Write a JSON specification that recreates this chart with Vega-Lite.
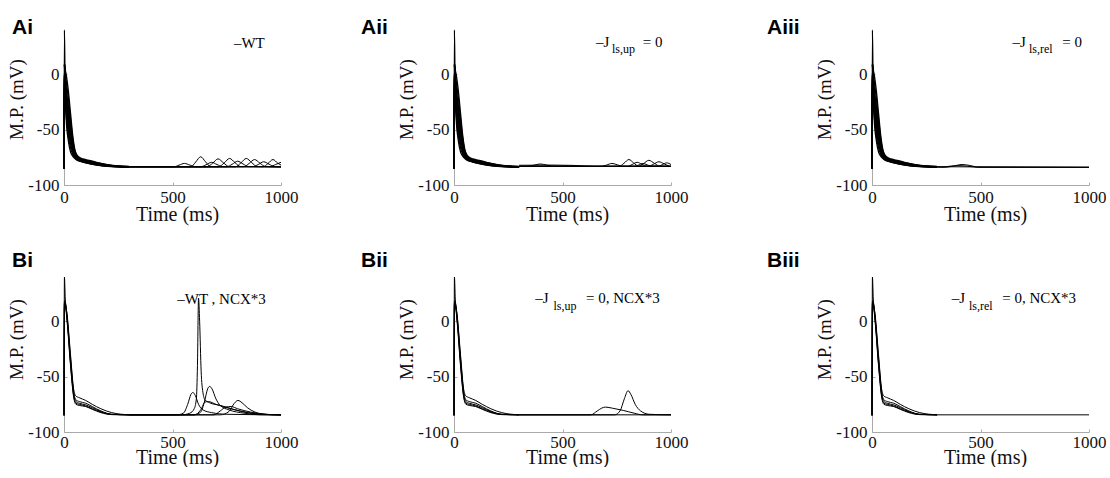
{
"$schema": "https://vega.github.io/schema/vega-lite/v6.json",
"padding": {"left": 7, "top": 16, "right": 0, "bottom": 0},
"background": "white",
"datasets": {
"abase": [
{"id":1,"t":0,"mv":-85},{"id":1,"t":2,"mv":40},{"id":1,"t":5,"mv":-12},{"id":1,"t":10,"mv":-40},{"id":1,"t":20,"mv":-60},{"id":1,"t":30,"mv":-70},{"id":1,"t":40,"mv":-74},{"id":1,"t":50,"mv":-76},{"id":1,"t":60,"mv":-77.5},{"id":1,"t":80,"mv":-79},{"id":1,"t":100,"mv":-80},{"id":1,"t":150,"mv":-82},{"id":1,"t":200,"mv":-83.2},{"id":1,"t":250,"mv":-83.6},{"id":1,"t":300,"mv":-83.8},
{"id":2,"t":0,"mv":-85},{"id":2,"t":2,"mv":8.2},{"id":2,"t":5,"mv":-13},{"id":2,"t":10,"mv":-36},{"id":2,"t":20,"mv":-55.5},{"id":2,"t":30,"mv":-66.5},{"id":2,"t":40,"mv":-72.1},{"id":2,"t":50,"mv":-75.2},{"id":2,"t":60,"mv":-77.1},{"id":2,"t":80,"mv":-78.7},{"id":2,"t":100,"mv":-79.7},{"id":2,"t":150,"mv":-81.8},{"id":2,"t":200,"mv":-83},{"id":2,"t":250,"mv":-83.5},{"id":2,"t":300,"mv":-83.8},
{"id":3,"t":0,"mv":-85},{"id":3,"t":2,"mv":8.4},{"id":3,"t":5,"mv":-11},{"id":3,"t":10,"mv":-32},{"id":3,"t":20,"mv":-51},{"id":3,"t":30,"mv":-63},{"id":3,"t":40,"mv":-70.2},{"id":3,"t":50,"mv":-74.4},{"id":3,"t":60,"mv":-76.6},{"id":3,"t":80,"mv":-78.4},{"id":3,"t":100,"mv":-79.4},{"id":3,"t":150,"mv":-81.5},{"id":3,"t":200,"mv":-82.9},{"id":3,"t":250,"mv":-83.4},{"id":3,"t":300,"mv":-83.7},
{"id":4,"t":0,"mv":-85},{"id":4,"t":2,"mv":8.6},{"id":4,"t":5,"mv":-9},{"id":4,"t":10,"mv":-28},{"id":4,"t":20,"mv":-46.5},{"id":4,"t":30,"mv":-59.5},{"id":4,"t":40,"mv":-68.3},{"id":4,"t":50,"mv":-73.6},{"id":4,"t":60,"mv":-76.2},{"id":4,"t":80,"mv":-78.1},{"id":4,"t":100,"mv":-79.1},{"id":4,"t":150,"mv":-81.3},{"id":4,"t":200,"mv":-82.7},{"id":4,"t":250,"mv":-83.4},{"id":4,"t":300,"mv":-83.7},
{"id":5,"t":0,"mv":-85},{"id":5,"t":2,"mv":8.8},{"id":5,"t":5,"mv":-7},{"id":5,"t":10,"mv":-24},{"id":5,"t":20,"mv":-42},{"id":5,"t":30,"mv":-56},{"id":5,"t":40,"mv":-66.4},{"id":5,"t":50,"mv":-72.8},{"id":5,"t":60,"mv":-75.7},{"id":5,"t":80,"mv":-77.8},{"id":5,"t":100,"mv":-78.8},{"id":5,"t":150,"mv":-81},{"id":5,"t":200,"mv":-82.5},{"id":5,"t":250,"mv":-83.3},{"id":5,"t":300,"mv":-83.6},
{"id":6,"t":0,"mv":-85},{"id":6,"t":2,"mv":9},{"id":6,"t":5,"mv":-5},{"id":6,"t":10,"mv":-20},{"id":6,"t":20,"mv":-37.5},{"id":6,"t":30,"mv":-52.5},{"id":6,"t":40,"mv":-64.5},{"id":6,"t":50,"mv":-72},{"id":6,"t":60,"mv":-75.3},{"id":6,"t":80,"mv":-77.5},{"id":6,"t":100,"mv":-78.5},{"id":6,"t":150,"mv":-80.8},{"id":6,"t":200,"mv":-82.4},{"id":6,"t":250,"mv":-83.2},{"id":6,"t":300,"mv":-83.6},
{"id":7,"t":0,"mv":-85},{"id":7,"t":2,"mv":9.2},{"id":7,"t":5,"mv":-3},{"id":7,"t":10,"mv":-16},{"id":7,"t":20,"mv":-33},{"id":7,"t":30,"mv":-49},{"id":7,"t":40,"mv":-62.6},{"id":7,"t":50,"mv":-71.2},{"id":7,"t":60,"mv":-74.8},{"id":7,"t":80,"mv":-77.2},{"id":7,"t":100,"mv":-78.2},{"id":7,"t":150,"mv":-80.5},{"id":7,"t":200,"mv":-82.2},{"id":7,"t":250,"mv":-83.1},{"id":7,"t":300,"mv":-83.5},
{"id":8,"t":0,"mv":-85},{"id":8,"t":2,"mv":9.4},{"id":8,"t":5,"mv":-1},{"id":8,"t":10,"mv":-12},{"id":8,"t":20,"mv":-28.5},{"id":8,"t":30,"mv":-45.5},{"id":8,"t":40,"mv":-60.7},{"id":8,"t":50,"mv":-70.4},{"id":8,"t":60,"mv":-74.4},{"id":8,"t":80,"mv":-76.9},{"id":8,"t":100,"mv":-77.9},{"id":8,"t":150,"mv":-80.3},{"id":8,"t":200,"mv":-82},{"id":8,"t":250,"mv":-83},{"id":8,"t":300,"mv":-83.5},
{"id":9,"t":0,"mv":-85},{"id":9,"t":2,"mv":9.7},{"id":9,"t":5,"mv":2},{"id":9,"t":10,"mv":-6},{"id":9,"t":20,"mv":-21.8},{"id":9,"t":30,"mv":-40.3},{"id":9,"t":40,"mv":-57.9},{"id":9,"t":50,"mv":-69.2},{"id":9,"t":60,"mv":-73.7},{"id":9,"t":80,"mv":-76.5},{"id":9,"t":100,"mv":-77.5},{"id":9,"t":150,"mv":-79.9},{"id":9,"t":200,"mv":-81.8},{"id":9,"t":250,"mv":-82.9},{"id":9,"t":300,"mv":-83.4},
{"id":10,"t":0,"mv":-85},{"id":10,"t":2,"mv":10},{"id":10,"t":5,"mv":5},{"id":10,"t":10,"mv":0},{"id":10,"t":20,"mv":-15},{"id":10,"t":30,"mv":-35},{"id":10,"t":40,"mv":-55},{"id":10,"t":50,"mv":-68},{"id":10,"t":60,"mv":-73},{"id":10,"t":80,"mv":-76},{"id":10,"t":100,"mv":-77},{"id":10,"t":150,"mv":-79.5},{"id":10,"t":200,"mv":-81.5},{"id":10,"t":250,"mv":-82.8},{"id":10,"t":300,"mv":-83.3}
],
"bbase": [
{"id":1,"t":0,"mv":-85},{"id":1,"t":2,"mv":40},{"id":1,"t":6,"mv":20},{"id":1,"t":15,"mv":5},{"id":1,"t":30,"mv":-30},{"id":1,"t":45,"mv":-62},{"id":1,"t":55,"mv":-67.5},{"id":1,"t":70,"mv":-69},{"id":1,"t":100,"mv":-71.5},{"id":1,"t":130,"mv":-75},{"id":1,"t":170,"mv":-79},{"id":1,"t":220,"mv":-82.5},{"id":1,"t":300,"mv":-84.5},
{"id":2,"t":0,"mv":-85},{"id":2,"t":2,"mv":18},{"id":2,"t":6,"mv":17},{"id":2,"t":15,"mv":3},{"id":2,"t":30,"mv":-33},{"id":2,"t":45,"mv":-64},{"id":2,"t":55,"mv":-71},{"id":2,"t":70,"mv":-72.5},{"id":2,"t":100,"mv":-74},{"id":2,"t":130,"mv":-77},{"id":2,"t":170,"mv":-81},{"id":2,"t":220,"mv":-84},{"id":2,"t":300,"mv":-84.5},
{"id":3,"t":0,"mv":-85},{"id":3,"t":2,"mv":17},{"id":3,"t":6,"mv":16},{"id":3,"t":15,"mv":1},{"id":3,"t":30,"mv":-36},{"id":3,"t":45,"mv":-66},{"id":3,"t":55,"mv":-72.5},{"id":3,"t":70,"mv":-74},{"id":3,"t":100,"mv":-75.5},{"id":3,"t":130,"mv":-78},{"id":3,"t":170,"mv":-81.5},{"id":3,"t":220,"mv":-84},{"id":3,"t":300,"mv":-84.5},
{"id":4,"t":0,"mv":-85},{"id":4,"t":2,"mv":16},{"id":4,"t":6,"mv":15},{"id":4,"t":15,"mv":0},{"id":4,"t":30,"mv":-38},{"id":4,"t":45,"mv":-68},{"id":4,"t":55,"mv":-74},{"id":4,"t":70,"mv":-75},{"id":4,"t":100,"mv":-76.5},{"id":4,"t":130,"mv":-79},{"id":4,"t":170,"mv":-82},{"id":4,"t":220,"mv":-84.2},{"id":4,"t":300,"mv":-84.5},
{"id":5,"t":0,"mv":-85},{"id":5,"t":2,"mv":15},{"id":5,"t":6,"mv":14},{"id":5,"t":15,"mv":-2},{"id":5,"t":30,"mv":-40},{"id":5,"t":45,"mv":-69},{"id":5,"t":55,"mv":-75},{"id":5,"t":70,"mv":-76},{"id":5,"t":100,"mv":-77},{"id":5,"t":130,"mv":-79.5},{"id":5,"t":170,"mv":-82.5},{"id":5,"t":220,"mv":-84.3},{"id":5,"t":300,"mv":-84.5}
],
"ai": [
{"id":1,"t":300,"mv":-83.5},{"id":1,"t":585,"mv":-83.5},{"id":1,"t":607,"mv":-79.2},{"id":1,"t":630,"mv":-74.5},{"id":1,"t":652,"mv":-79},{"id":1,"t":675,"mv":-83.3},{"id":1,"t":1000,"mv":-83.5},
{"id":2,"t":300,"mv":-83.5},{"id":2,"t":660,"mv":-83.5},{"id":2,"t":685,"mv":-80.3},{"id":2,"t":710,"mv":-76.4},{"id":2,"t":735,"mv":-80},{"id":2,"t":760,"mv":-83.3},{"id":2,"t":1000,"mv":-83.5},
{"id":3,"t":300,"mv":-83.5},{"id":3,"t":713,"mv":-83.5},{"id":3,"t":738,"mv":-80.1},{"id":3,"t":763,"mv":-76},{"id":3,"t":788,"mv":-79.8},{"id":3,"t":813,"mv":-83.3},{"id":3,"t":1000,"mv":-83.5},
{"id":4,"t":300,"mv":-83.6},{"id":4,"t":790,"mv":-83.6},{"id":4,"t":815,"mv":-80.1},{"id":4,"t":840,"mv":-76},{"id":4,"t":865,"mv":-79.8},{"id":4,"t":890,"mv":-83.3},{"id":4,"t":1000,"mv":-83.5},
{"id":5,"t":300,"mv":-83.5},{"id":5,"t":918,"mv":-83.5},{"id":5,"t":940,"mv":-80.6},{"id":5,"t":963,"mv":-77},{"id":5,"t":985,"mv":-80.3},{"id":5,"t":1000,"mv":-82},
{"id":6,"t":300,"mv":-83.6},{"id":6,"t":505,"mv":-83.6},{"id":6,"t":530,"mv":-82.1},{"id":6,"t":555,"mv":-80.5},{"id":6,"t":580,"mv":-82},{"id":6,"t":605,"mv":-83.5},{"id":6,"t":828,"mv":-83.5},{"id":6,"t":853,"mv":-80.6},{"id":6,"t":878,"mv":-77},{"id":6,"t":903,"mv":-80.3},{"id":6,"t":928,"mv":-83.3},{"id":6,"t":1000,"mv":-83.5},
{"id":7,"t":300,"mv":-83.5},{"id":7,"t":750,"mv":-83.5},{"id":7,"t":775,"mv":-81.3},{"id":7,"t":800,"mv":-78.5},{"id":7,"t":825,"mv":-81},{"id":7,"t":850,"mv":-83.3},{"id":7,"t":1000,"mv":-83.5},
{"id":8,"t":300,"mv":-83.5},{"id":8,"t":630,"mv":-83.5},{"id":8,"t":655,"mv":-81.7},{"id":8,"t":680,"mv":-79.5},{"id":8,"t":705,"mv":-81.5},{"id":8,"t":730,"mv":-83.3},{"id":8,"t":1000,"mv":-83.5},
{"id":9,"t":300,"mv":-83.4},{"id":9,"t":870,"mv":-83.4},{"id":9,"t":895,"mv":-81.5},{"id":9,"t":920,"mv":-79},{"id":9,"t":945,"mv":-81.2},{"id":9,"t":970,"mv":-83.3},{"id":9,"t":1000,"mv":-83.4},
{"id":10,"t":300,"mv":-83.3},{"id":10,"t":950,"mv":-83.3},{"id":10,"t":975,"mv":-81.5},{"id":10,"t":1000,"mv":-79.5}
],
"aii": [
{"id":1,"t":300,"mv":-83.2},{"id":1,"t":761,"mv":-83.2},{"id":1,"t":783,"mv":-80.4},{"id":1,"t":806,"mv":-77},{"id":1,"t":828,"mv":-80.1},{"id":1,"t":851,"mv":-83},{"id":1,"t":1000,"mv":-83.2},
{"id":2,"t":300,"mv":-83.2},{"id":2,"t":848,"mv":-83.2},{"id":2,"t":873,"mv":-80.7},{"id":2,"t":898,"mv":-77.7},{"id":2,"t":923,"mv":-80.4},{"id":2,"t":948,"mv":-83},{"id":2,"t":1000,"mv":-83.2},
{"id":3,"t":300,"mv":-83.2},{"id":3,"t":678,"mv":-83.2},{"id":3,"t":703,"mv":-82},{"id":3,"t":728,"mv":-80.5},{"id":3,"t":753,"mv":-81.8},{"id":3,"t":778,"mv":-83},{"id":3,"t":1000,"mv":-83.2},
{"id":4,"t":300,"mv":-83.2},{"id":4,"t":799,"mv":-83.2},{"id":4,"t":821,"mv":-81.5},{"id":4,"t":844,"mv":-79.5},{"id":4,"t":866,"mv":-81.3},{"id":4,"t":889,"mv":-83},{"id":4,"t":1000,"mv":-83.2},
{"id":5,"t":300,"mv":-83.2},{"id":5,"t":894,"mv":-83.2},{"id":5,"t":919,"mv":-81.3},{"id":5,"t":944,"mv":-79},{"id":5,"t":969,"mv":-81},{"id":5,"t":994,"mv":-83},{"id":5,"t":1000,"mv":-83.2},
{"id":6,"t":300,"mv":-83.2},{"id":6,"t":337,"mv":-83.2},{"id":6,"t":367,"mv":-82.2},{"id":6,"t":397,"mv":-81},{"id":6,"t":427,"mv":-82},{"id":6,"t":457,"mv":-83},{"id":6,"t":1000,"mv":-83.2},
{"id":7,"t":300,"mv":-82.2},{"id":7,"t":450,"mv":-82},{"id":7,"t":550,"mv":-82.3},{"id":7,"t":650,"mv":-83.2},{"id":7,"t":1000,"mv":-83.2},
{"id":8,"t":300,"mv":-83.2},{"id":8,"t":830,"mv":-83.2},{"id":8,"t":850,"mv":-82},{"id":8,"t":870,"mv":-80.5},{"id":8,"t":890,"mv":-81.8},{"id":8,"t":910,"mv":-83},{"id":8,"t":1000,"mv":-83.2},
{"id":9,"t":300,"mv":-83.2},{"id":9,"t":940,"mv":-83.2},{"id":9,"t":960,"mv":-81.6},{"id":9,"t":980,"mv":-80},{"id":9,"t":1000,"mv":-81.5},
{"id":10,"t":300,"mv":-83.3},{"id":10,"t":1000,"mv":-83.3}
],
"aiii": [
{"id":1,"t":300,"mv":-83.8},{"id":1,"t":320,"mv":-83.8},{"id":1,"t":360,"mv":-83},{"id":1,"t":400,"mv":-82.5},{"id":1,"t":440,"mv":-83},{"id":1,"t":480,"mv":-83.8},{"id":1,"t":1000,"mv":-84},
{"id":6,"t":300,"mv":-83.6},{"id":6,"t":335,"mv":-84},{"id":6,"t":375,"mv":-82.9},{"id":6,"t":415,"mv":-81.5},{"id":6,"t":455,"mv":-82.5},{"id":6,"t":490,"mv":-84},{"id":6,"t":1000,"mv":-84},
{"id":2,"t":300,"mv":-83.5},{"id":2,"t":1000,"mv":-84}
],
"bi": [
{"id":1,"t":300,"mv":-84.5},{"id":1,"t":540,"mv":-84.5},{"id":1,"t":580,"mv":-83},{"id":1,"t":600,"mv":-79},{"id":1,"t":610,"mv":-70},{"id":1,"t":615,"mv":-40},{"id":1,"t":620,"mv":21},{"id":1,"t":625,"mv":0},{"id":1,"t":632,"mv":-45},{"id":1,"t":640,"mv":-64},{"id":1,"t":650,"mv":-71},{"id":1,"t":670,"mv":-73.5},{"id":1,"t":720,"mv":-76},{"id":1,"t":780,"mv":-79.5},{"id":1,"t":850,"mv":-82.5},{"id":1,"t":920,"mv":-84},{"id":1,"t":1000,"mv":-84.5},
{"id":2,"t":300,"mv":-84.5},{"id":2,"t":520,"mv":-84.5},{"id":2,"t":550,"mv":-83},{"id":2,"t":570,"mv":-75},{"id":2,"t":585,"mv":-66},{"id":2,"t":594,"mv":-64.3},{"id":2,"t":605,"mv":-67},{"id":2,"t":620,"mv":-75},{"id":2,"t":640,"mv":-80},{"id":2,"t":680,"mv":-82.5},{"id":2,"t":750,"mv":-84},{"id":2,"t":1000,"mv":-84.5},
{"id":3,"t":300,"mv":-84.5},{"id":3,"t":600,"mv":-84.5},{"id":3,"t":630,"mv":-82},{"id":3,"t":648,"mv":-72},{"id":3,"t":662,"mv":-61},{"id":3,"t":671,"mv":-58.8},{"id":3,"t":682,"mv":-61},{"id":3,"t":700,"mv":-70},{"id":3,"t":720,"mv":-76},{"id":3,"t":760,"mv":-80},{"id":3,"t":830,"mv":-83},{"id":3,"t":920,"mv":-84.5},{"id":3,"t":1000,"mv":-84.5},
{"id":4,"t":300,"mv":-84.5},{"id":4,"t":720,"mv":-84.5},{"id":4,"t":760,"mv":-81.5},{"id":4,"t":785,"mv":-74},{"id":4,"t":802,"mv":-71.5},{"id":4,"t":820,"mv":-73.5},{"id":4,"t":845,"mv":-78},{"id":4,"t":880,"mv":-82},{"id":4,"t":930,"mv":-84},{"id":4,"t":1000,"mv":-84.5},
{"id":5,"t":300,"mv":-84.5},{"id":5,"t":600,"mv":-84.5},{"id":5,"t":630,"mv":-80},{"id":5,"t":650,"mv":-73},{"id":5,"t":665,"mv":-72.5},{"id":5,"t":700,"mv":-75},{"id":5,"t":760,"mv":-78.5},{"id":5,"t":830,"mv":-82},{"id":5,"t":900,"mv":-84},{"id":5,"t":1000,"mv":-84.5},
{"id":6,"t":300,"mv":-84.5},{"id":6,"t":690,"mv":-84.5},{"id":6,"t":720,"mv":-81},{"id":6,"t":745,"mv":-77.5},{"id":6,"t":770,"mv":-77},{"id":6,"t":800,"mv":-79},{"id":6,"t":860,"mv":-82},{"id":6,"t":950,"mv":-84.3},{"id":6,"t":1000,"mv":-84.5}
],
"bii": [
{"id":1,"t":300,"mv":-84.5},{"id":1,"t":630,"mv":-84.5},{"id":1,"t":660,"mv":-81},{"id":1,"t":680,"mv":-78.5},{"id":1,"t":698,"mv":-77.5},{"id":1,"t":730,"mv":-78.5},{"id":1,"t":780,"mv":-80.5},{"id":1,"t":830,"mv":-83},{"id":1,"t":870,"mv":-84.5},{"id":1,"t":1000,"mv":-84.5},
{"id":2,"t":300,"mv":-84.5},{"id":2,"t":740,"mv":-84.5},{"id":2,"t":765,"mv":-81},{"id":2,"t":785,"mv":-70},{"id":2,"t":802,"mv":-62.7},{"id":2,"t":815,"mv":-66},{"id":2,"t":835,"mv":-75},{"id":2,"t":860,"mv":-81},{"id":2,"t":900,"mv":-84},{"id":2,"t":1000,"mv":-84.5},
{"id":3,"t":300,"mv":-84.5},{"id":3,"t":1000,"mv":-84.5}
],
"biii": [
{"id":1,"t":300,"mv":-84.5},{"id":1,"t":1000,"mv":-84.5}
]
},
"vconcat": [
{"hconcat": [
 {"hconcat": [
  {"width": 217, "height": 155, "title": {"text": "Ai", "dx": -52, "dy": 14.5},
   "layer": [
    {"data": {"name": "abase"}, "mark": {"type": "line", "strokeWidth": 1.3}, "encoding": {"x": {"field": "t", "type": "quantitative", "scale": {"domain": [0, 1000]}, "axis": {"values": [0, 500, 1000], "title": "Time (ms)", "labelPadding": 7, "titlePadding": -1}}, "y": {"field": "mv", "type": "quantitative", "scale": {"domain": [-100, 40]}, "axis": {"values": [-100, -50, 0], "title": "M.P. (mV)", "titleY": 69}}, "detail": {"field": "id", "type": "nominal"}}},
    {"data": {"name": "ai"}, "mark": "line", "encoding": {"x": {"field": "t", "type": "quantitative"}, "y": {"field": "mv", "type": "quantitative"}, "detail": {"field": "id", "type": "nominal"}}},
    {"data": {"values": [{}]}, "mark": "text", "encoding": {"x": {"datum": 783, "type": "quantitative"}, "y": {"datum": 24, "type": "quantitative"}, "text": {"value": "–WT"}}}
   ]},
  {"width": 217, "height": 155, "title": {"text": "Aii", "dx": -93, "dy": 14.5},
   "layer": [
    {"data": {"name": "abase"}, "mark": {"type": "line", "strokeWidth": 1.3}, "encoding": {"x": {"field": "t", "type": "quantitative", "scale": {"domain": [0, 1000]}, "axis": {"values": [0, 500, 1000], "title": "Time (ms)", "labelPadding": 7, "titlePadding": -1}}, "y": {"field": "mv", "type": "quantitative", "scale": {"domain": [-100, 40]}, "axis": {"values": [-100, -50, 0], "title": "M.P. (mV)", "titleY": 69}}, "detail": {"field": "id", "type": "nominal"}}},
    {"data": {"name": "aii"}, "mark": "line", "encoding": {"x": {"field": "t", "type": "quantitative"}, "y": {"field": "mv", "type": "quantitative"}, "detail": {"field": "id", "type": "nominal"}}},
    {"data": {"values": [{}]}, "mark": "text", "encoding": {"x": {"datum": 654, "type": "quantitative"}, "y": {"datum": 24.4, "type": "quantitative"}, "text": {"value": "–J"}}},
    {"data": {"values": [{}]}, "mark": {"type": "text", "fontSize": 12}, "encoding": {"x": {"datum": 728, "type": "quantitative"}, "y": {"datum": 19, "type": "quantitative"}, "text": {"value": "ls,up"}}},
    {"data": {"values": [{}]}, "mark": "text", "encoding": {"x": {"datum": 870, "type": "quantitative"}, "y": {"datum": 24.4, "type": "quantitative"}, "text": {"value": "= 0"}}}
   ]}
 ], "spacing": 63},
 {"width": 217, "height": 155, "title": {"text": "Aiii", "dx": -105, "dy": 14.5},
  "layer": [
   {"data": {"name": "abase"}, "mark": {"type": "line", "strokeWidth": 1.3}, "encoding": {"x": {"field": "t", "type": "quantitative", "scale": {"domain": [0, 1000]}, "axis": {"values": [0, 500, 1000], "title": "Time (ms)", "labelPadding": 7, "titlePadding": -1}}, "y": {"field": "mv", "type": "quantitative", "scale": {"domain": [-100, 40]}, "axis": {"values": [-100, -50, 0], "title": "M.P. (mV)", "titleY": 69}}, "detail": {"field": "id", "type": "nominal"}}},
   {"data": {"name": "aiii"}, "mark": "line", "encoding": {"x": {"field": "t", "type": "quantitative"}, "y": {"field": "mv", "type": "quantitative"}, "detail": {"field": "id", "type": "nominal"}}},
   {"data": {"values": [{}]}, "mark": "text", "encoding": {"x": {"datum": 647, "type": "quantitative"}, "y": {"datum": 24.4, "type": "quantitative"}, "text": {"value": "–J"}}},
   {"data": {"values": [{}]}, "mark": {"type": "text", "fontSize": 12}, "encoding": {"x": {"datum": 723, "type": "quantitative"}, "y": {"datum": 19, "type": "quantitative"}, "text": {"value": "ls,rel"}}},
   {"data": {"values": [{}]}, "mark": "text", "encoding": {"x": {"datum": 877, "type": "quantitative"}, "y": {"datum": 24.4, "type": "quantitative"}, "text": {"value": "= 0"}}}
  ]}
], "spacing": 79},
{"hconcat": [
 {"hconcat": [
  {"width": 217, "height": 155, "title": {"text": "Bi", "dx": -52, "dy": 0},
   "layer": [
    {"data": {"name": "bbase"}, "mark": "line", "encoding": {"x": {"field": "t", "type": "quantitative", "scale": {"domain": [0, 1000]}, "axis": {"values": [0, 500, 1000], "title": "Time (ms)", "labelPadding": 5, "titlePadding": -3}}, "y": {"field": "mv", "type": "quantitative", "scale": {"domain": [-100, 40]}, "axis": {"values": [-100, -50, 0], "title": "M.P. (mV)", "titleY": 62}}, "detail": {"field": "id", "type": "nominal"}}},
    {"data": {"name": "bi"}, "mark": "line", "encoding": {"x": {"field": "t", "type": "quantitative"}, "y": {"field": "mv", "type": "quantitative"}, "detail": {"field": "id", "type": "nominal"}}},
    {"data": {"values": [{}]}, "mark": "text", "encoding": {"x": {"datum": 522, "type": "quantitative"}, "y": {"datum": 16, "type": "quantitative"}, "text": {"value": "–WT , NCX*3"}}}
   ]},
  {"width": 217, "height": 155, "title": {"text": "Bii", "dx": -93, "dy": 0},
   "layer": [
    {"data": {"name": "bbase"}, "mark": "line", "encoding": {"x": {"field": "t", "type": "quantitative", "scale": {"domain": [0, 1000]}, "axis": {"values": [0, 500, 1000], "title": "Time (ms)", "labelPadding": 5, "titlePadding": -3}}, "y": {"field": "mv", "type": "quantitative", "scale": {"domain": [-100, 40]}, "axis": {"values": [-100, -50, 0], "title": "M.P. (mV)", "titleY": 62}}, "detail": {"field": "id", "type": "nominal"}}},
    {"data": {"name": "bii"}, "mark": "line", "encoding": {"x": {"field": "t", "type": "quantitative"}, "y": {"field": "mv", "type": "quantitative"}, "detail": {"field": "id", "type": "nominal"}}},
    {"data": {"values": [{}]}, "mark": "text", "encoding": {"x": {"datum": 374, "type": "quantitative"}, "y": {"datum": 16.5, "type": "quantitative"}, "text": {"value": "–J"}}},
    {"data": {"values": [{}]}, "mark": {"type": "text", "fontSize": 12}, "encoding": {"x": {"datum": 458, "type": "quantitative"}, "y": {"datum": 10, "type": "quantitative"}, "text": {"value": "ls,up"}}},
    {"data": {"values": [{}]}, "mark": "text", "encoding": {"x": {"datum": 608, "type": "quantitative"}, "y": {"datum": 16.5, "type": "quantitative"}, "text": {"value": "= 0, NCX*3"}}}
   ]}
 ], "spacing": 63},
 {"width": 217, "height": 155, "title": {"text": "Biii", "dx": -105, "dy": 0},
  "layer": [
   {"data": {"name": "bbase"}, "mark": "line", "encoding": {"x": {"field": "t", "type": "quantitative", "scale": {"domain": [0, 1000]}, "axis": {"values": [0, 500, 1000], "title": "Time (ms)", "labelPadding": 5, "titlePadding": -3}}, "y": {"field": "mv", "type": "quantitative", "scale": {"domain": [-100, 40]}, "axis": {"values": [-100, -50, 0], "title": "M.P. (mV)", "titleY": 62}}, "detail": {"field": "id", "type": "nominal"}}},
   {"data": {"name": "biii"}, "mark": "line", "encoding": {"x": {"field": "t", "type": "quantitative"}, "y": {"field": "mv", "type": "quantitative"}, "detail": {"field": "id", "type": "nominal"}}},
   {"data": {"values": [{}]}, "mark": "text", "encoding": {"x": {"datum": 367, "type": "quantitative"}, "y": {"datum": 16.5, "type": "quantitative"}, "text": {"value": "–J"}}},
   {"data": {"values": [{}]}, "mark": {"type": "text", "fontSize": 12}, "encoding": {"x": {"datum": 447, "type": "quantitative"}, "y": {"datum": 10, "type": "quantitative"}, "text": {"value": "ls,rel"}}},
   {"data": {"values": [{}]}, "mark": "text", "encoding": {"x": {"datum": 600, "type": "quantitative"}, "y": {"datum": 16.5, "type": "quantitative"}, "text": {"value": "= 0, NCX*3"}}}
  ]}
], "spacing": 79}
],
"spacing": 26,
"config": {
 "view": {"stroke": null},
 "line": {"interpolate": "monotone", "color": "#000", "strokeWidth": 1},
 "text": {"font": "Liberation Serif", "fontSize": 15, "align": "left", "baseline": "alphabetic", "color": "#000"},
 "title": {"font": "Liberation Sans", "fontSize": 21, "fontWeight": "bold", "anchor": "start", "frame": "group", "baseline": "alphabetic", "offset": 0, "color": "#000"},
 "axis": {"labelFont": "Liberation Serif", "titleFont": "Liberation Serif", "labelFontSize": 17, "labelColor": "#111", "titleColor": "#111", "titleFontWeight": "normal", "domainColor": "#aaa", "tickColor": "#aaa", "grid": false, "ticks": true, "tickSize": -3, "labelFlush": false, "labelOverlap": false, "labelBound": false, "labelExpr": "'' + datum.value"},
 "axisX": {"titleFontSize": 20, "titleX": 113},
 "axisY": {"titleFontSize": 19, "labelPadding": 8, "titlePadding": 1}
}
}
